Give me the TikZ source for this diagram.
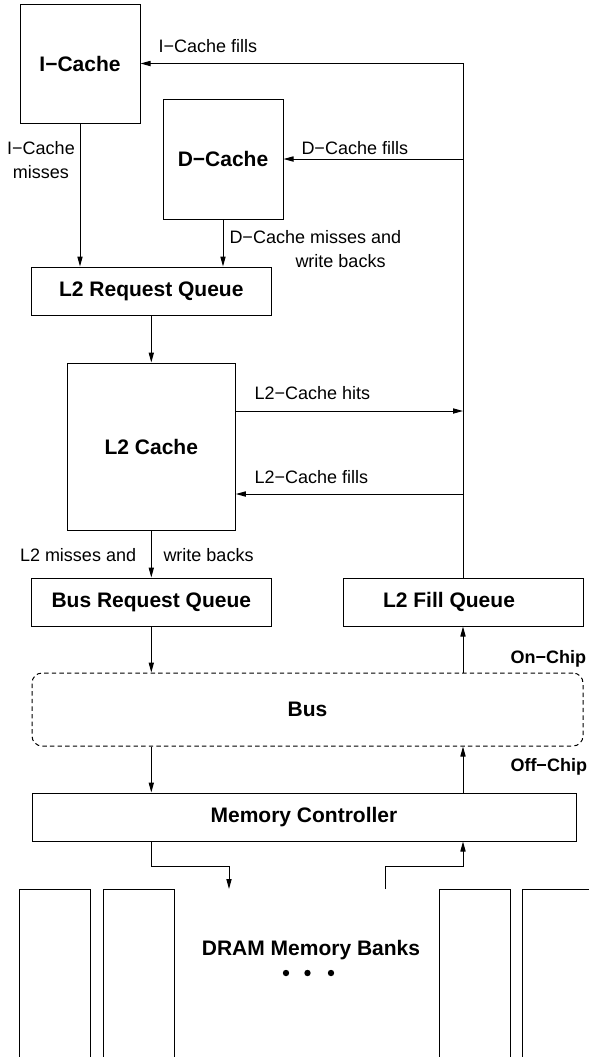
\documentclass[tikz,border=0pt]{standalone}
\usepackage{fontspec}
\setmainfont{Liberation Sans}
\usepackage{tikz}
\usetikzlibrary{shapes, arrows.meta, positioning}
\newcommand{\boxfont}{\fontsize{10.5}{12.6}\selectfont\bfseries}
\newcommand{\notefont}{\fontsize{9}{12}\selectfont}
\tikzstyle{block} = [draw, fill=white, rectangle, font=\boxfont]
\tikzstyle{note} = [inner sep=0pt, font=\notefont]
\tikzstyle{chip} = [inner sep=0pt, font=\notefont\bfseries, anchor=base west]
\tikzstyle{busbox} = [draw, rectangle, rounded corners=5pt, dash pattern=on 2.2pt off 1.6pt, font=\boxfont]

\begin{document}
\begin{tikzpicture}[x=1pt, y=1pt, >={Triangle[length=5pt,width=2.6pt]}, line width=0.5pt, node distance=77.75pt]
  \useasboundingbox (0,0) rectangle (294.5,-528.5);
  \node[block, minimum width=60pt, minimum height=59.5pt] (icache) at (40,-31.75) {I−Cache};
  \node[block, minimum width=60pt, minimum height=60pt] (dcache) at (111.5,-79.5) {D−Cache};
  \node[block, minimum width=119.75pt, minimum height=24pt] (l2rq) at (75.65,-145.5) {L2 Request Queue};
  \node[block, below of=l2rq, minimum width=84pt, minimum height=83.5pt] (l2cache) {L2 Cache};
  \node[block, below of=l2cache, minimum width=119.75pt, minimum height=24pt] (busrq) {Bus Request Queue};
  \node[block, right of=busrq, node distance=155.85pt, minimum width=120pt, minimum height=24pt] (l2fq) {L2 Fill Queue\hspace*{14pt}};
  \node[busbox, minimum width=275.5pt, minimum height=36.5pt] (bus) at (153.75,-354.75) {Bus};
  \node[block, minimum width=272pt, minimum height=24pt] (mc) at (152,-408.5) {Memory Controller};
  \foreach \x/\name in {27.6/bankA, 69.5/bankB, 237.4/bankC, 279.1/bankD}
    \node[block, minimum width=35.75pt, minimum height=86.5pt] (\name) at (\x,-487.75) {};
  \node[font=\boxfont, inner sep=0pt, anchor=base] (dram) at (155.5,-477.75) {DRAM Memory Banks};
  \foreach \x in {143, 153.75, 165.5}
    \fill (\x,-486.5) circle (1.6pt);

  \coordinate (dramin) at (114.5,-444.5);
  \coordinate (dramout) at (192.5,-444.5);
  \coordinate (hitsout) at ([yshift=17.75pt]l2cache.east);
  \coordinate (fillsin) at ([yshift=-23.75pt]l2cache.east);

  \draw[->] (l2fq.north) |- (icache.east);
  \draw[->] (l2fq.north |- dcache.east) -- (dcache.east);
  \draw[->] (hitsout) -- (hitsout -| l2fq.north);
  \draw[->] (fillsin -| l2fq.north) -- (fillsin);
  \draw[->] (icache.south) -- (icache.south |- l2rq.north);
  \draw[->] (dcache.south) -- (dcache.south |- l2rq.north);
  \draw[->] (l2rq.south) -- (l2cache.north);
  \draw[->] (l2cache.south) -- (busrq.north);
  \draw[->] (busrq.south) -- (busrq.south |- bus.north);
  \draw[->] (l2fq.south |- bus.north) -- (l2fq.south);
  \draw[->] (busrq.south |- bus.south) -- (busrq.south |- mc.north);
  \draw[->] (l2fq.south |- mc.north) -- (l2fq.south |- bus.south);
  \draw[->] (mc.south -| busrq.south) -- ++(0,-12.5) -| (dramin);
  \draw[->] (dramout) -- ++(0,11.5) -| (mc.south -| l2fq.south);

  \node[note, anchor=base west] (ifills) at (79,-26.2) {I−Cache fills};
  \node[note, anchor=base west] (dfills) at (150.5,-77.2) {D−Cache fills};
  \node[note, align=center] (imiss) at (20.5,-79.95) {I−Cache\\misses};
  \node[note, align=left, anchor=north west] (dmiss) at (114.5,-115.15) {D−Cache misses and\\\hspace*{33pt}write backs};
  \node[note, anchor=base west] (l2hits) at (127,-199.7) {L2−Cache hits};
  \node[note, anchor=base west] (l2fills) at (127,-241.7) {L2−Cache fills};
  \node[note, anchor=base west] (l2miss) at (9.75,-280.7) {L2 misses and};
  \node[note, anchor=base west] (l2wb) at (81.5,-280.7) {write backs};
  \node[chip] (onchip) at (255,-331.75) {On−Chip};
  \node[chip] (offchip) at (255,-385.75) {Off−Chip};
\end{tikzpicture}
\end{document}
